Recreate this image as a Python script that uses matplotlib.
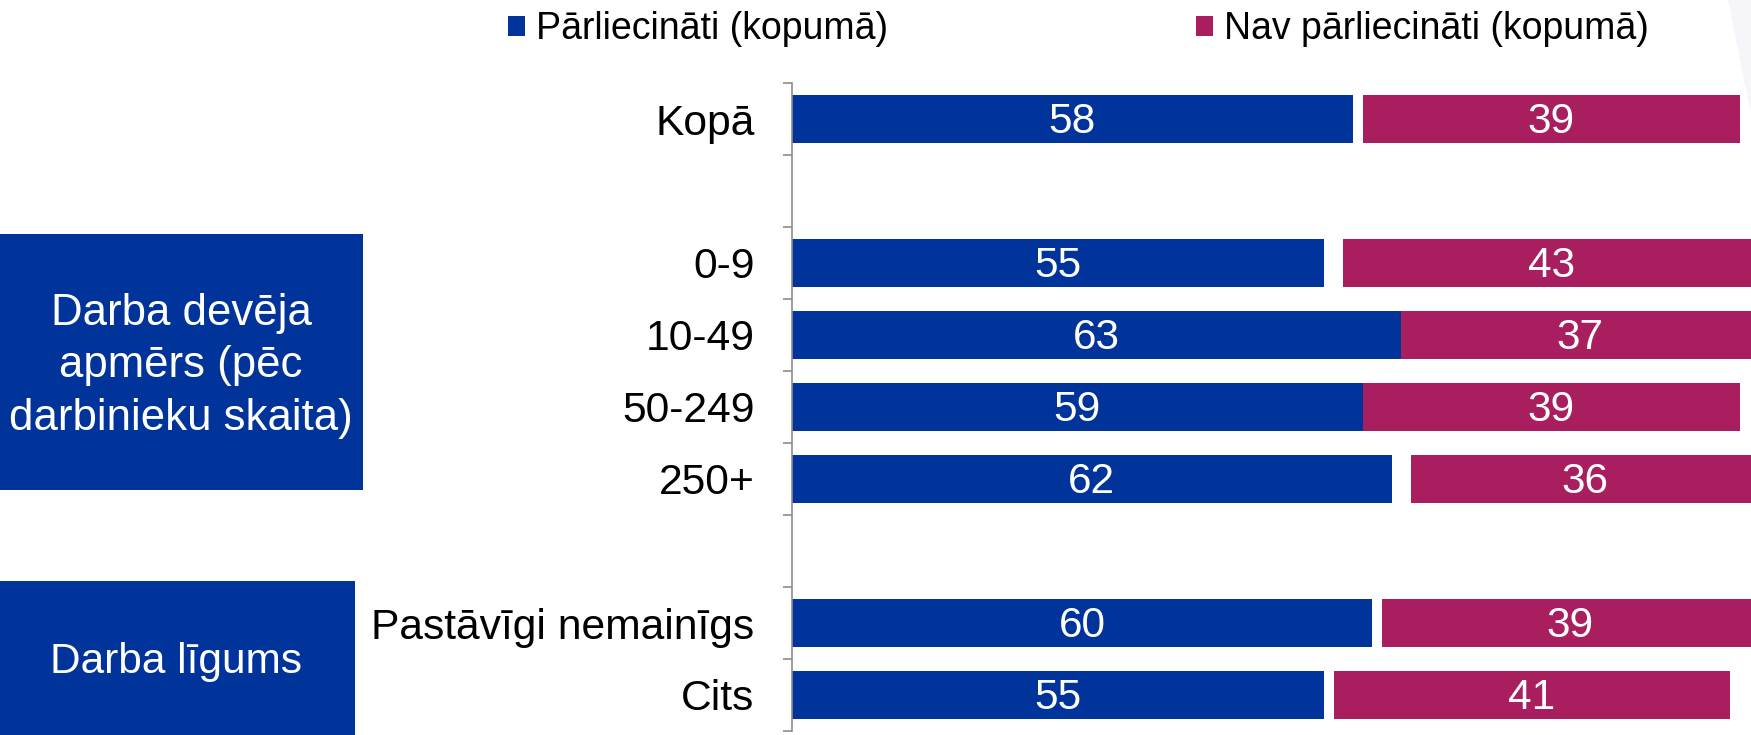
import matplotlib
matplotlib.use('Agg')
import matplotlib.pyplot as plt
from matplotlib.patches import Polygon, Rectangle
import numpy as np

plt.rcParams['font.family'] = ['Liberation Sans', 'DejaVu Sans']

# data
categories = ['Kopā', '', '0-9', '10-49', '50-249', '250+', '', 'Pastāvīgi nemainīgs', 'Cits']
parliecinati = [58, None, 55, 63, 59, 62, None, 60, 55]
gruti_pateikt = [1, None, 2, 0, 0, 2, None, 1, 1]   # hidden middle segment (white gap)
nav_parliecinati = [39, None, 43, 37, 39, 36, None, 39, 41]

BLUE = '#00349A'
MAGENTA = '#A91E5E'
GREY = '#8C8C8C'

W, H = 1751, 735
fig = plt.figure(figsize=(W / 100, H / 100), dpi=100)

# faint background decoration at top right
fig.patches.append(Polygon([(1728 / W, 1), (1, 1), (1, 1 - 112 / H), (1746 / W, 1 - 90 / H)],
                           closed=True, transform=fig.transFigure, facecolor='#F6F6FA',
                           edgecolor='none', zorder=0))

ax = fig.add_axes([792 / W, 4 / H, (W - 792) / W, (731 - 83) / H])
ax.set_facecolor('none')

y = np.arange(len(categories))
idx = [i for i, v in enumerate(parliecinati) if v is not None]
p = np.array([parliecinati[i] for i in idx], dtype=float)
g = np.array([gruti_pateikt[i] for i in idx], dtype=float)
n = np.array([nav_parliecinati[i] for i in idx], dtype=float)
yy = y[idx]

h = 0.667
b1 = ax.barh(yy, p, height=h, color=BLUE, label='Pārliecināti (kopumā)')
ax.barh(yy, g, left=p, height=h, color='white')
b3 = ax.barh(yy, n, left=p + g, height=h, color=MAGENTA, label='Nav pārliecināti (kopumā)')

# value labels, nudged down a little so the digits sit in the middle of the bar
for rects, vals in ((b1, p), (b3, n)):
    for r, v in zip(rects, vals):
        ax.annotate(f'{v:.0f}', (r.get_x() + r.get_width() / 2, r.get_y() + r.get_height() / 2),
                    xytext=(0, -2.5), textcoords='offset points',
                    ha='center', va='center', color='white', fontsize=30.5)

ax.set_xlim(0, (W - 792) / 9.67)
ax.set_ylim(len(categories) - 0.5, -0.5)

ax.set_yticks(y)
ax.set_yticklabels(categories, fontsize=30.7)
ax.set_yticks(np.arange(len(categories) + 1) - 0.5, minor=True)
ax.tick_params(axis='y', which='major', length=0, pad=27)
ax.tick_params(axis='y', which='minor', length=6.5, width=1.2, color=GREY, direction='out')
ax.set_xticks([])
for s in ('top', 'right', 'bottom'):
    ax.spines[s].set_visible(False)
ax.spines['left'].set_color(GREY)
ax.spines['left'].set_linewidth(1.2)

# group boxes on the left
fig.patches.append(Rectangle((0, 1 - 490 / H), 363 / W, (490 - 234) / H,
                             transform=fig.transFigure, facecolor=BLUE, edgecolor='none'))
fig.text(181 / W, 1 - 366 / H, 'Darba devēja\napmērs (pēc\ndarbinieku skaita)',
         ha='center', va='center', color='white', fontsize=31.5, linespacing=1.36)
fig.patches.append(Rectangle((0, 0), 355 / W, (H - 581) / H,
                             transform=fig.transFigure, facecolor=BLUE, edgecolor='none'))
fig.text(176 / W, 1 - 662 / H, 'Darba līgums',
         ha='center', va='center', color='white', fontsize=30.5)

fig.legend(handles=[b1, b3], loc='center left', bbox_to_anchor=(508 / W, 1 - 29 / H),
           ncol=2, frameon=False, fontsize=27, handlelength=0.45, handleheight=0.45,
           handletextpad=0.3, columnspacing=8.2, borderpad=0, borderaxespad=0)

fig.savefig('out.png', dpi=100)
